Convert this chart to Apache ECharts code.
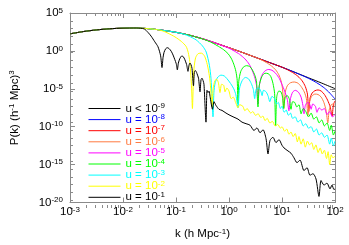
<!DOCTYPE html>
<html><head><meta charset="utf-8">
<script src="https://cdn.jsdelivr.net/npm/echarts@6/dist/echarts.min.js"></script>
<style>html,body{margin:0;padding:0;background:#fff}#c{width:349px;height:245px}</style>
</head><body><div id="c"></div>
<script>
// ---- data (log10 k, log10 P) ----
const xTickExps = [-3, -2, -1, 0, 1, 2];
const yTickExps = [-20, -15, -10, -5, 0, 5];
const legendMain = ['u < 10', 'u = 10', 'u = 10', 'u = 10', 'u = 10', 'u = 10', 'u = 10', 'u = 10', 'u = 10'];
const legendExp = ['-9', '-8', '-7', '-6', '-5', '-4', '-3', '-2', '-1'];

const shared = [[-3.0,2.25],[-2.75,2.55],[-2.5,2.77],[-2.25,2.92],[-2.0,3.0],[-1.75,3.02]];

const uBelow9 = [[-1.5,2.92],[-1.25,2.72],[-1.0,2.45],[-0.75,2.08],[-0.5,1.6],[-0.25,1.02],[0,0.42],[0.25,-0.2],[0.5,-0.85],[0.75,-1.5],[1.0,-2.15],[1.25,-2.85],[1.5,-3.55],[1.75,-4.25],[2.0,-4.98]];

const u1e8 = [[-1.5,2.92],[-1.25,2.72],[-1.0,2.45],[-0.75,2.08],[-0.5,1.6],[-0.25,1.02],[0,0.42],[0.25,-0.2],[0.5,-0.85],[0.75,-1.5],[1.0,-2.15],[1.25,-2.85],[1.4,-3.3],[1.5,-3.62],[1.6,-3.98],[1.7,-4.4],[1.8,-4.9],[1.9,-5.55],[2.0,-6.35]];

const u1e7 = [[-1.5,2.92],[-1.25,2.72],[-1.0,2.45],[-0.75,2.08],[-0.5,1.6],[-0.25,1.02],[0,0.42],[0.25,-0.2],[0.5,-0.85],[0.75,-1.5],[1.0,-2.15],[1.1,-2.47],[1.2,-2.85],[1.3,-3.35],[1.38,-3.95],[1.44,-4.7],[1.48,-5.7],[1.505,-8.0],[1.53,-6.2],[1.57,-5.55],[1.62,-5.25],[1.68,-5.15],[1.74,-5.3],[1.8,-5.75],[1.86,-6.5],[1.91,-7.4],[1.945,-8.6],[1.97,-7.1],[2.0,-6.6]];

const u1e6 = [[-1.5,2.92],[-1.25,2.72],[-1.0,2.45],[-0.75,2.08],[-0.5,1.6],[-0.25,1.02],[0,0.42],[0.25,-0.2],[0.5,-0.85],[0.6,-1.15],[0.7,-1.52],[0.8,-1.98],[0.88,-2.5],[0.94,-3.15],[0.98,-3.9],[1.01,-5.0],[1.035,-7.6],[1.06,-5.5],[1.1,-4.6],[1.16,-4.2],[1.23,-4.1],[1.3,-4.25],[1.36,-4.7],[1.42,-5.4],[1.46,-6.3],[1.49,-8.5],[1.515,-6.8],[1.56,-6.0],[1.62,-5.7],[1.68,-5.75],[1.74,-6.1],[1.79,-6.8],[1.83,-7.8],[1.865,-9.5],[1.89,-7.8],[1.93,-7.1],[1.97,-7.0],[2.0,-7.2]];

const u1e5 = [[-1.5,2.92],[-1.25,2.72],[-1.0,2.45],[-0.75,2.08],[-0.5,1.6],[-0.25,1.02],[-0.1,0.62],[0,0.36],[0.1,-0.02],[0.2,-0.45],[0.3,-1.05],[0.38,-1.75],[0.44,-2.6],[0.49,-3.6],[0.52,-4.6],[0.547,-7.0],[0.57,-4.7],[0.61,-3.4],[0.67,-2.7],[0.74,-2.45],[0.81,-2.55],[0.88,-2.95],[0.95,-3.65],[1.01,-4.6],[1.06,-5.5],[1.1,-6.4],[1.13,-7.9],[1.16,-6.3],[1.2,-5.45],[1.25,-5.2],[1.31,-5.45],[1.36,-6.1],[1.395,-7.2],[1.415,-8.3],[1.44,-7.2],[1.48,-6.8],[1.52,-7.0],[1.55,-7.7],[1.58,-7.0],[1.63,-7.3],[1.66,-8.1],[1.7,-7.5],[1.75,-7.8],[1.8,-7.6],[1.85,-8.4],[1.9,-8.0],[1.95,-8.7],[2.0,-8.4]];

const u1e4 = [[-1.5,2.92],[-1.25,2.72],[-1.0,2.45],[-0.75,2.08],[-0.5,1.58],[-0.4,1.33],[-0.3,1.0],[-0.2,0.6],[-0.1,0.15],[-0.02,-0.35],[0.04,-0.95],[0.09,-1.75],[0.13,-2.7],[0.155,-3.9],[0.17,-7.0],[0.185,-4.0],[0.22,-2.75],[0.27,-2.15],[0.33,-1.95],[0.39,-2.05],[0.44,-2.5],[0.49,-3.25],[0.52,-4.1],[0.547,-7.4],[0.57,-4.6],[0.62,-3.4],[0.68,-2.95],[0.74,-3.0],[0.79,-3.4],[0.83,-4.3],[0.86,-5.6],[0.88,-9.9],[0.9,-6.1],[0.94,-5.3],[0.98,-5.4],[1.01,-6.1],[1.03,-7.6],[1.06,-6.1],[1.1,-5.9],[1.14,-6.4],[1.17,-7.7],[1.2,-6.7],[1.24,-6.8],[1.28,-7.4],[1.32,-7.1],[1.36,-8.3],[1.4,-7.6],[1.45,-8.0],[1.5,-8.7],[1.55,-8.2],[1.6,-9.0],[1.65,-8.7],[1.7,-9.5],[1.75,-9.1],[1.8,-9.9],[1.85,-9.5],[1.9,-10.5],[1.93,-9.8],[1.97,-11.1],[2.0,-10.6]];

const u1e3 = [[-1.5,2.92],[-1.25,2.72],[-1.0,2.45],[-0.85,2.2],[-0.75,1.93],[-0.62,1.45],[-0.5,0.65],[-0.43,-0.15],[-0.37,-1.9],[-0.34,-3.6],[-0.32,-6.2],[-0.302,-8.7],[-0.285,-5.5],[-0.26,-4.2],[-0.21,-3.45],[-0.15,-3.2],[-0.09,-3.3],[-0.04,-3.65],[0.03,-4.3],[0.09,-5.0],[0.13,-5.8],[0.17,-7.5],[0.2,-4.9],[0.25,-3.9],[0.31,-3.5],[0.37,-3.7],[0.42,-4.3],[0.46,-5.1],[0.485,-6.3],[0.51,-5.1],[0.56,-4.9],[0.6,-5.3],[0.625,-5.9],[0.65,-5.2],[0.7,-5.4],[0.74,-6.0],[0.77,-6.7],[0.81,-6.0],[0.86,-6.3],[0.9,-7.0],[0.93,-6.8],[0.97,-7.6],[1.0,-7.3],[1.04,-8.1],[1.08,-7.8],[1.12,-8.5],[1.16,-8.2],[1.2,-8.9],[1.25,-8.7],[1.3,-9.4],[1.35,-9.1],[1.4,-9.9],[1.45,-9.6],[1.5,-10.2],[1.55,-10.0],[1.6,-10.7],[1.65,-10.3],[1.7,-11.1],[1.75,-10.8],[1.8,-11.4],[1.85,-11.1],[1.9,-12.3],[1.93,-11.5],[1.97,-12.5],[2.0,-11.9]];

const u1e2 = [[-1.5,2.92],[-1.35,2.8],[-1.25,2.63],[-1.15,2.33],[-1.02,1.85],[-0.9,1.25],[-0.81,0.6],[-0.77,-0.2],[-0.74,-1.4],[-0.72,-3.2],[-0.705,-5.0],[-0.69,-7.6],[-0.675,-4.5],[-0.66,-2.3],[-0.63,-0.9],[-0.58,-0.35],[-0.52,-0.3],[-0.46,-0.7],[-0.41,-1.8],[-0.37,-3.3],[-0.345,-5.0],[-0.32,-7.4],[-0.3,-5.0],[-0.265,-3.9],[-0.23,-3.75],[-0.2,-4.2],[-0.17,-5.5],[-0.14,-4.4],[-0.1,-4.55],[-0.075,-5.4],[-0.04,-4.9],[0.0,-5.3],[0.04,-6.3],[0.08,-6.1],[0.13,-6.9],[0.17,-7.5],[0.2,-7.1],[0.26,-7.3],[0.3,-7.9],[0.34,-7.6],[0.41,-8.2],[0.45,-8.0],[0.5,-8.5],[0.55,-8.3],[0.6,-8.8],[0.64,-8.6],[0.68,-9.2],[0.72,-8.9],[0.77,-9.5],[0.82,-9.3],[0.87,-9.9],[0.92,-9.7],[0.97,-10.2],[1.0,-10.0],[1.05,-10.6],[1.09,-10.3],[1.13,-11.0],[1.17,-10.7],[1.21,-11.3],[1.25,-10.9],[1.29,-12.0],[1.32,-11.3],[1.36,-12.3],[1.4,-11.6],[1.44,-12.7],[1.48,-11.9],[1.52,-12.4],[1.56,-12.1],[1.6,-13.0],[1.64,-12.4],[1.68,-13.4],[1.72,-12.8],[1.76,-13.6],[1.8,-13.1],[1.84,-14.2],[1.87,-13.3],[1.9,-15.0],[1.93,-13.7],[1.96,-14.1],[2.0,-13.9]];

const u1e1 = [[-1.6,2.9],[-1.53,2.45],[-1.47,1.95],[-1.4,1.2],[-1.34,0.55],[-1.29,-0.65],[-1.264,-2.2],[-1.245,-0.9],[-1.226,-0.2],[-1.195,0.28],[-1.164,0.42],[-1.13,0.3],[-1.09,-0.05],[-1.055,-0.55],[-1.025,-1.1],[-0.995,-1.7],[-0.975,-2.5],[-0.955,-1.6],[-0.93,-1.05],[-0.905,-0.75],[-0.887,-0.65],[-0.86,-0.8],[-0.836,-1.1],[-0.8,-1.8],[-0.774,-2.7],[-0.755,-1.9],[-0.736,-1.6],[-0.715,-1.85],[-0.698,-2.3],[-0.67,-4.6],[-0.655,-2.9],[-0.64,-2.6],[-0.62,-2.7],[-0.604,-3.0],[-0.575,-3.6],[-0.547,-5.4],[-0.528,-3.8],[-0.51,-3.6],[-0.49,-3.9],[-0.472,-4.4],[-0.434,-9.4],[-0.415,-5.2],[-0.396,-5.5],[-0.377,-5.3],[-0.358,-6.0],[-0.311,-7.7],[-0.283,-6.7],[-0.245,-7.2],[-0.189,-7.7],[-0.132,-7.85],[-0.057,-8.2],[0.019,-8.5],[0.094,-8.75],[0.17,-9.0],[0.245,-9.4],[0.321,-9.6],[0.396,-9.8],[0.472,-10.5],[0.528,-10.15],[0.585,-10.8],[0.642,-10.4],[0.698,-11.55],[0.736,-13.6],[0.774,-11.8],[0.83,-11.4],[0.887,-12.1],[0.943,-11.7],[1.0,-12.45],[1.038,-12.8],[1.113,-13.2],[1.17,-13.5],[1.226,-14.1],[1.283,-14.75],[1.34,-14.4],[1.415,-15.8],[1.472,-15.4],[1.528,-16.4],[1.585,-16.2],[1.642,-16.9],[1.698,-19.2],[1.736,-17.1],[1.792,-17.7],[1.849,-17.45],[1.906,-18.2],[1.943,-17.7],[1.981,-18.3],[2.0,-18.2]];

const curves = [uBelow9, u1e8, u1e7, u1e6, u1e5, u1e4, u1e3, u1e2, u1e1];

// ---- styling ----
const colors = ['#000000','#0000ff','#ff0000','#ff7a40','#ff00ff','#00ff00','#00ffff','#ffff00','#000000'];
const FONT = '"Liberation Sans", Arial, sans-serif';
const GRAY = '#8a8a8a';
const names = legendMain.map((m, i) => m + '^' + legendExp[i]);

const minorX = [];
for (let n = -3; n < 2; n++) for (let m = 2; m <= 9; m++) minorX.push(n + Math.log10(m));

const supRich = {
  b: { fontSize: 11.5, lineHeight: 13, fontFamily: FONT, color: '#000' },
  s: { fontSize: 8, lineHeight: 4, verticalAlign: 'top', fontFamily: FONT, color: '#000' }
};
const expFmt = v => '{b|10}{s|' + v + '}';

const legendRich = {};
colors.forEach((c, i) => {
  legendRich['b' + i] = { fontSize: 11.5, lineHeight: 13, fontFamily: FONT, color: c };
  legendRich['s' + i] = { fontSize: 8, lineHeight: 4, verticalAlign: 'top', fontFamily: FONT, color: c };
});

function axisBase(extra) {
  return Object.assign({
    type: 'value', splitLine: { show: false },
    axisLine: { show: true, onZero: false, lineStyle: { color: GRAY, width: 1 } },
    axisTick: { show: true, inside: true, length: 5, lineStyle: { color: GRAY } },
    axisLabel: { show: false }
  }, extra);
}
const hiddenLine = { show: false, onZero: false };

const gridRect = { left: 70, right: 14, top: 13, bottom: 37 };

const option = {
  animation: false,
  backgroundColor: '#fff',
  grid: [Object.assign({}, gridRect), Object.assign({}, gridRect)],
  xAxis: [
    axisBase({ gridIndex: 0, position: 'bottom', min: -3, max: 2, interval: 1,
      axisLabel: { show: true, margin: 3, formatter: expFmt, rich: supRich, customValues: xTickExps },
      name: '{b|k (h Mpc}{s|-1}{b|)}', nameLocation: 'middle', nameGap: 25,
      nameTextStyle: { rich: supRich } }),
    axisBase({ gridIndex: 0, position: 'top', min: -3, max: 2, interval: 1 }),
    axisBase({ gridIndex: 1, position: 'bottom', min: -3, max: 2, axisLine: hiddenLine,
      axisTick: { show: true, inside: true, length: 3, customValues: minorX, lineStyle: { color: GRAY } } }),
    axisBase({ gridIndex: 1, position: 'top', min: -3, max: 2, axisLine: hiddenLine,
      axisTick: { show: true, inside: true, length: 3, customValues: minorX, lineStyle: { color: GRAY } } })
  ],
  yAxis: [
    axisBase({ gridIndex: 0, position: 'left', min: -20, max: 5, interval: 5,
      axisLabel: { show: true, margin: 7, formatter: expFmt, rich: supRich, customValues: yTickExps },
      name: '{b|P(k) (h}{s|-1}{b| Mpc)}{s|3}', nameLocation: 'middle', nameGap: 49, nameRotate: 90,
      nameTextStyle: { rich: supRich } }),
    axisBase({ gridIndex: 0, position: 'right', min: -20, max: 5, interval: 5 }),
    axisBase({ gridIndex: 1, position: 'left', min: -20, max: 5, interval: 1, axisLine: hiddenLine,
      axisTick: { show: true, inside: true, length: 3, lineStyle: { color: GRAY } } }),
    axisBase({ gridIndex: 1, position: 'right', min: -20, max: 5, interval: 1, axisLine: hiddenLine,
      axisTick: { show: true, inside: true, length: 3, lineStyle: { color: GRAY } } })
  ],
  legend: {
    orient: 'vertical', left: 83, top: 97, itemWidth: 32, itemHeight: 10, itemGap: -1.4,
    itemStyle: { opacity: 0 },
    lineStyle: { width: 1 },
    data: names.map(n => ({ name: n })),
    formatter: name => {
      const i = names.indexOf(name);
      return '{b' + i + '|' + legendMain[i] + '}{s' + i + '|' + legendExp[i] + '}';
    },
    textStyle: { fontFamily: FONT, fontSize: 11.5, rich: legendRich }
  },
  series: curves.map((c, i) => ({
    name: names[i], type: 'line', xAxisIndex: 0, yAxisIndex: 0,
    data: shared.concat(c), symbol: 'none', showSymbol: false, smooth: 0.25,
    color: colors[i], lineStyle: { width: 1, color: colors[i] }, clip: true
  }))
};

const chart = echarts.init(document.getElementById('c'), null, { renderer: 'canvas' });
chart.setOption(option);
</script>
</body></html>
